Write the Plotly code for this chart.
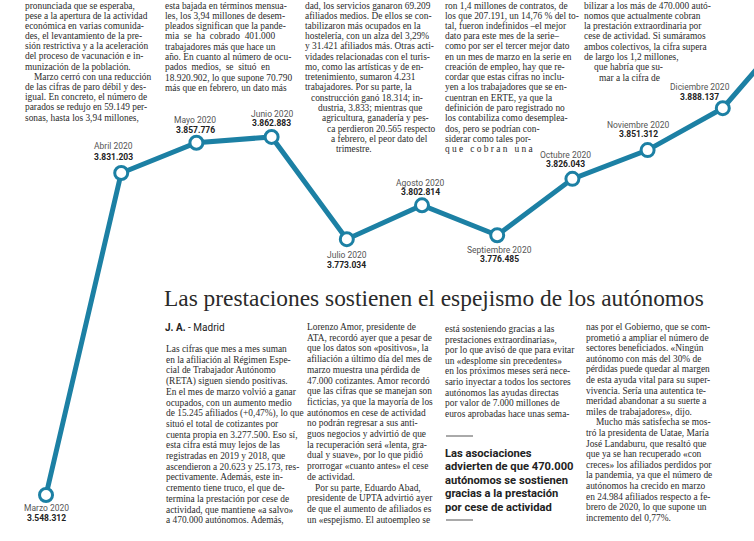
import plotly.graph_objects as go

W, H = 754, 541

# ---------------- chart data ----------------
months = ["Marzo 2020", "Abril 2020", "Mayo 2020", "Junio 2020", "Julio 2020",
          "Agosto 2020", "Septiembre 2020", "Octubre 2020", "Noviembre 2020",
          "Diciembre 2020", "Enero 2021"]
values = [3548312, 3831203, 3857776, 3862883, 3773034,
          3802814, 3776485, 3826043, 3851312, 3888137, 3964353]
value_labels = ["3.548.312", "3.831.203", "3.857.776", "3.862.883", "3.773.034",
                "3.802.814", "3.776.485", "3.826.043", "3.851.312", "3.888.137", ""]
n_marked = 10

# label offsets (pixels): (xshift, yshift of month, yshift of value)
label_offsets = [(0, -13, -23), (-8, 27, 16), (-1, 23, 13), (0, 23, 14), (0, -16, -26),
                 (-2, 22, 13), (2, -15, -24), (-7, 24, 15), (-9, 25, 16), (-23, 21, 11)]

# ---------------- article text ----------------
top_col1 = ["pronunciada que se esperaba,",
            "pese a la apertura de la actividad",
            "económica en varias comunida-",
            "des, el levantamiento de la pre-",
            "sión restrictiva y a la aceleración",
            "del proceso de vacunación e in-",
            "munización de la población.",
            "Marzo cerró con una reducción",
            "de las cifras de paro débil y des-",
            "igual. En concreto, el número de",
            "parados se redujo en 59.149 per-",
            "sonas, hasta los 3,94 millones,"]
top_col2 = ["esta bajada en términos mensua-",
            "les, los 3,94 millones de desem-",
            "pleados significan que la pande-",
            "mia  se  ha  cobrado  401.000",
            "trabajadores más que hace un",
            "año. En cuanto al número de ocu-",
            "pados  medios,  se  situó  en",
            "18.920.902, lo que supone 70.790",
            "más que en febrero, un dato más"]
top_col3 = ["dad, los servicios ganaron 69.209",
            "afiliados medios. De ellos se con-",
            "tabilizaron más ocupados en la",
            "hostelería, con un alza del 3,29%",
            "y 31.421 afiliados más. Otras acti-",
            "vidades relacionadas con el turis-",
            "mo, como las artísticas y de en-",
            "tretenimiento, sumaron 4.231",
            "trabajadores. Por su parte, la",
            "construcción ganó 18.314; in-",
            "dustria, 3.833; mientras que",
            "agricultura, ganadería y pes-",
            "ca perdieron 20.565 respecto",
            "a febrero, el peor dato del",
            "trimestre."]
top_col4 = ["ron 1,4 millones de contratos, de",
            "los que 207.191, un 14,76 % del to-",
            "tal, fueron indefinidos –el mejor",
            "dato para este mes de la serie–",
            "como por ser el tercer mejor dato",
            "en un mes de marzo en la serie en",
            "creación de empleo, hay que re-",
            "cordar que estas cifras no inclu-",
            "yen a los trabajadores que se en-",
            "cuentran en ERTE, ya que la",
            "definición de paro registrado no",
            "los contabiliza como desemplea-",
            "dos, pero se podrían con-",
            "siderar como tales por-",
            "q u e   c o b r a n   u n a"]
top_col5 = ["bilizar a los más de 470.000 autó-",
            "nomos que actualmente cobran",
            "la prestación extraordinaria por",
            "cese de actividad. Si sumáramos",
            "ambos colectivos, la cifra supera",
            "de largo los 1,2 millones,",
            "que habría que su-",
            "mar a la cifra de"]

headline = "Las prestaciones sostienen el espejismo de los autónomos"
byline = "<b>J. A.</b> - Madrid"

bot_colA = ["Las cifras que mes a mes suman",
            "en la afiliación al Régimen Espe-",
            "cial de Trabajador Autónomo",
            "(RETA) siguen siendo positivas.",
            "En el mes de marzo volvió a ganar",
            "ocupados, con un aumento medio",
            "de 15.245 afiliados (+0,47%), lo que",
            "situó el total de cotizantes por",
            "cuenta propia en 3.277.500. Eso sí,",
            "esta cifra está muy lejos de las",
            "registradas en 2019 y 2018, que",
            "ascendieron a 20.623 y 25.173, res-",
            "pectivamente. Además, este in-",
            "cremento tiene truco, el que de-",
            "termina la prestación por cese de",
            "actividad, que mantiene «a salvo»",
            "a 470.000 autónomos. Además,"]
bot_colB = ["Lorenzo Amor, presidente de",
            "ATA, recordó ayer que a pesar de",
            "que los datos son «positivos», la",
            "afiliación a último día del mes de",
            "marzo muestra una pérdida de",
            "47.000 cotizantes. Amor recordó",
            "que las cifras que se manejan son",
            "ficticias, ya que la mayoría de los",
            "autónomos en cese de actividad",
            "no podrán regresar a sus anti-",
            "guos negocios y advirtió de que",
            "la recuperación será «lenta, gra-",
            "dual y suave», por lo que pidió",
            "prorrogar «cuanto antes» el cese",
            "de actividad.",
            "Por su parte, Eduardo Abad,",
            "presidente de UPTA advirtió ayer",
            "de que el aumento de afiliados es",
            "un «espejismo. El autoempleo se"]
bot_colC = ["está sosteniendo gracias a las",
            "prestaciones extraordinarias»,",
            "por lo que avisó de que para evitar",
            "un «desplome sin precedentes»",
            "en los próximos meses será nece-",
            "sario inyectar a todos los sectores",
            "autónomos las ayudas directas",
            "por valor de 7.000 millones de",
            "euros aprobadas hace unas sema-"]
sidebar = ["Las asociaciones",
           "advierten de que 470.000",
           "autónomos se sostienen",
           "gracias a la prestación",
           "por cese de actividad"]
bot_colD = ["nas por el Gobierno, que se com-",
            "prometió a ampliar el número de",
            "sectores beneficiados. «Ningún",
            "autónomo con más del 30% de",
            "pérdidas puede quedar al margen",
            "de esta ayuda vital para su super-",
            "vivencia. Sería una autentica te-",
            "meridad abandonar a su suerte a",
            "miles de trabajadores», dijo.",
            "Mucho más satisfecha se mos-",
            "tró la presidenta de Uatae, María",
            "José Landaburu, que resaltó que",
            "que ya se han recuperado «con",
            "creces» los afiliados perdidos por",
            "la pandemia, ya que el número de",
            "autónomos ha crecido en marzo",
            "en 24.984 afiliados respecto a fe-",
            "brero de 2020, lo que supone un",
            "incremento del 0,77%."]

# ---------------- figure ----------------
TEAL = "#1c80a4"
SERIF = "Liberation Serif"
SANS = "Roboto"
TXT = "#2b2b2b"
BODY = 9.4

fig = go.Figure()
fig.add_trace(go.Scatter(x=months, y=values, mode="lines",
                         line=dict(color=TEAL, width=5), hoverinfo="skip"))
fig.add_trace(go.Scatter(x=months[:n_marked], y=values[:n_marked], mode="markers",
                         marker=dict(size=13, color="white", line=dict(color=TEAL, width=3)),
                         hoverinfo="skip"))

ann = []
for i in range(n_marked):
    dx, dy1, dy2 = label_offsets[i]
    ann.append(dict(x=months[i], y=values[i], xref="x", yref="y", text=months[i],
                    showarrow=False, xshift=dx, yshift=dy1,
                    font=dict(family=SANS, size=8.5, color="#555555")))
    ann.append(dict(x=months[i], y=values[i], xref="x", yref="y",
                    text="<b>" + value_labels[i] + "</b>",
                    showarrow=False, xshift=dx, yshift=dy2,
                    font=dict(family=SANS, size=8.5, color="#222222")))


def px(x):
    return x / W


def py(y):
    return 1 - y / H


def column(lines, x0, y0, dy, indents=None, size=BODY, family=SERIF, color=TXT, bold=False):
    for k, line in enumerate(lines):
        ind = indents[k] if indents else 0
        ann.append(dict(x=px(x0 + ind), y=py(y0 + k * dy), xref="paper", yref="paper",
                        text=("<b>" + line + "</b>") if bold else line,
                        showarrow=False, xanchor="left", yanchor="middle",
                        font=dict(family=family, size=size, color=color)))


column(top_col1, 23, 5.5, 10.2, [0] * 7 + [9] + [0] * 4)
column(top_col2, 163, 5.5, 10.3)
column(top_col3, 303, 5.5, 10.25, [0] * 9 + [6, 13, 17, 22, 26, 31])
column(top_col4, 443, 5.5, 10.25)
column(top_col5, 582, 5.5, 10.3, [0] * 6 + [10, 15])

ann.append(dict(x=px(162), y=py(298), xref="paper", yref="paper", text=headline,
                showarrow=False, xanchor="left", yanchor="middle",
                font=dict(family=SERIF, size=23.4, color="#2a2a2a")))
ann.append(dict(x=px(163), y=py(327), xref="paper", yref="paper", text=byline,
                showarrow=False, xanchor="left", yanchor="middle",
                font=dict(family=SANS, size=10, color="#222222")))

column(bot_colA, 164, 349, 10.7)
column(bot_colB, 305, 327, 10.7, [0] * 15 + [8] + [0] * 3)
column(bot_colC, 443, 329, 10.6)
column(sidebar, 443, 453, 13.5, size=11.2, family=SANS, color="#222222", bold=True)
column(bot_colD, 584, 327, 10.6, [0] * 9 + [10] + [0] * 9)

shapes = [dict(type="line", xref="paper", yref="paper", x0=px(446), x1=px(473),
               y0=py(436), y1=py(436), line=dict(color="#555555", width=1)),
          dict(type="line", xref="paper", yref="paper", x0=px(446), x1=px(473),
               y0=py(520), y1=py(520), line=dict(color="#555555", width=1))]

y_top = 3548312 + 495 * 878.5
y_bot = 3548312 - 46 * 878.5

fig.update_layout(
    width=W, height=H,
    margin=dict(l=0, r=0, t=0, b=0),
    paper_bgcolor="white", plot_bgcolor="white",
    showlegend=False,
    xaxis=dict(type="category", categoryorder="array", categoryarray=months,
               range=[-0.612, 9.415], visible=False, fixedrange=True),
    yaxis=dict(range=[y_bot, y_top], visible=False, fixedrange=True),
    annotations=ann, shapes=shapes,
)

fig.write_html("out.html", config={"displayModeBar": False},
               post_script="document.body.style.margin='0';")
